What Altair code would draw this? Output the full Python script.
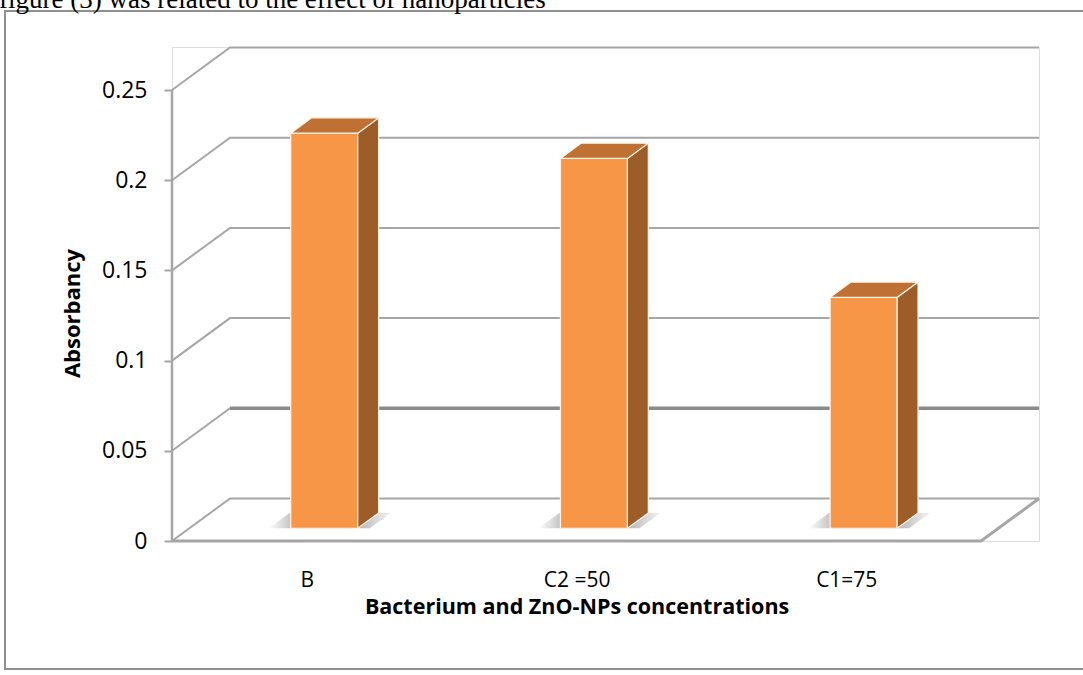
import altair as alt
import pandas as pd

# ---------------- data ----------------
categories = ["B", "C2 =50", "C1=75"]
absorbancy = [0.219, 0.205, 0.128]
tick_values = [0, 0.05, 0.1, 0.15, 0.2, 0.25]
x_title = "Bacterium and ZnO-NPs concentrations"
y_title = "Absorbancy"
caption = "figure (3) was related to the effect of nanoparticles"

# ---------------- layout (pseudo 3-D geometry) ----------------
PX_W, PX_H = 867, 494          # plot area in pixels
SLOT_PX = 269.7                # width of one category slot on the front floor
PX_PER_Y = 1804.0              # pixels per 1.0 absorbancy
X_MAX = PX_W / SLOT_PX
Y_MAX = PX_H / PX_PER_Y
DX = 58 / SLOT_PX              # depth of the wall (x)
DY = 42.5 / PX_PER_Y           # depth of the wall (y)
FRONT_F = 0.30                 # depth fraction of a bar's front face
BAR_F = 0.36                   # depth fraction of a bar
BAR_W = 67 / SLOT_PX
N = len(categories)

xs = alt.Scale(domain=[0, X_MAX], nice=False, zero=False)
ys = alt.Scale(domain=[0, Y_MAX], nice=False, zero=False)
GRID = "#a6a6a6"

x_axis = alt.Axis(
    values=[i + 0.5 for i in range(N)],
    labelExpr="[" + ",".join("'" + c + "'" for c in categories) + "][floor(datum.value)]",
    domain=False, ticks=False, tickSize=0, grid=False,
    labelFontSize=21, labelColor="#000", labelPadding=28, labelBaseline="top",
    title=x_title, titleFontSize=21.5, titleFontWeight="bold", titleColor="#000",
    titleX=N * SLOT_PX / 2, titleY=55, titleBaseline="top", titleAlign="center",
)
y_axis = alt.Axis(
    values=tick_values, format="~g", domain=False, grid=False,
    tickSize=8, tickWidth=2, tickColor=GRID,
    labelFontSize=23, labelColor="#000", labelPadding=17,
    title=y_title, titleFontSize=22, titleFontWeight="bold", titleColor="#000",
    titleAngle=270, titleX=-100, titleY=266, titleAlign="center", titleBaseline="middle",
)

def X(f="x"):
    return alt.X(f + ":Q", scale=xs, axis=x_axis)

def Y(f="y"):
    return alt.Y(f + ":Q", scale=ys, axis=y_axis)

# --- back wall / floor grid lines ---
grid_rows = []
for t in tick_values:
    for k, (gx, gy) in enumerate([(0, t), (DX, t + DY), (X_MAX, t + DY)]):
        grid_rows.append({"t": t, "k": k, "x": gx, "y": gy})
grid_df = pd.DataFrame(grid_rows)

grid = alt.Chart(grid_df).mark_line(
    color=GRID, strokeWidth=2).encode(x=X(), y=Y(), detail="t:N", order="k:Q")
grid_major = alt.Chart(grid_df).transform_filter(
    (alt.datum.t == 0.05) & (alt.datum.k >= 1)
).mark_line(color="#8a8a8a", strokeWidth=3.5).encode(
    x=X(), y=Y(), detail="t:N", order="k:Q")

floor_df = pd.DataFrame({"k": [0, 1, 2], "x": [0, N, N + DX], "y": [0, 0, DY]})
floor = alt.Chart(floor_df).mark_line(color=GRID, strokeWidth=3).encode(
    x=X(), y=Y(), order="k:Q")

axis_df = pd.DataFrame({"x": [0], "y": [0], "y2": [tick_values[-1]]})
axis_line = alt.Chart(axis_df).mark_rule(color=GRID, strokeWidth=2.5).encode(
    x=X(), y=Y(), y2="y2:Q")

# --- bars ---
front_rows, side_rows, top_rows, shadow_rows = [], [], [], []
ddx, ddy = BAR_F * DX, BAR_F * DY
for i, (c, v) in enumerate(zip(categories, absorbancy)):
    xl = i + 0.5 - BAR_W / 2 + FRONT_F * DX
    xr = xl + BAR_W
    base = FRONT_F * DY
    top = v + base
    front_rows.append({"c": c, "x": xl, "x2": xr, "y": base, "y2": top})
    side_rows += [
        {"c": c, "x": xr, "y": base, "y2": top},
        {"c": c, "x": xr + ddx, "y": base + ddy, "y2": top + ddy},
    ]
    top_rows += [
        {"c": c, "x": xl, "y": top, "y2": top},
        {"c": c, "x": xl + ddx, "y": top, "y2": top + ddy},
        {"c": c, "x": xr, "y": top, "y2": top + ddy},
        {"c": c, "x": xr + ddx, "y": top + ddy, "y2": top + ddy},
    ]
    sl, sr = xl - 22 / SLOT_PX, xr + 12 / SLOT_PX
    shadow_rows += [
        {"c": c, "x": sl, "y": base, "y2": base},
        {"c": c, "x": sl + ddx, "y": base, "y2": base + ddy},
        {"c": c, "x": sr, "y": base, "y2": base + ddy},
        {"c": c, "x": sr + ddx, "y": base + ddy, "y2": base + ddy},
    ]

shadow_grad = alt.LinearGradient(
    gradient="linear", x1=0, x2=1, y1=0, y2=0,
    stops=[alt.GradientStop(color="#ffffff", offset=0),
           alt.GradientStop(color="#9a9a9a", offset=0.25),
           alt.GradientStop(color="#a8a8a8", offset=0.75),
           alt.GradientStop(color="#f0f0f0", offset=1)])
shadow = alt.Chart(pd.DataFrame(shadow_rows)).mark_area(color=shadow_grad, opacity=0.8).encode(
    x=X(), y=Y(), y2="y2:Q", detail="c:N")

front = alt.Chart(pd.DataFrame(front_rows)).mark_rect(
    color="#F79646", stroke="#fff3e8", strokeWidth=1.2).encode(
    x=X(), x2="x2:Q", y=Y(), y2="y2:Q")
side = alt.Chart(pd.DataFrame(side_rows)).mark_area(
    color="#9C5D29", stroke="#fff3e8", strokeWidth=1.2).encode(
    x=X(), y=Y(), y2="y2:Q", detail="c:N")
topf = alt.Chart(pd.DataFrame(top_rows)).mark_area(
    color="#BE7133", stroke="#fff3e8", strokeWidth=1.2).encode(
    x=X(), y=Y(), y2="y2:Q", detail="c:N")

# --- frame and caption (decoration) ---
one = pd.DataFrame({"a": [0]})
frame = alt.Chart(one).mark_rect(fill=None, stroke="#8f8f8f", strokeWidth=2).encode(
    x=alt.value(-167), x2=alt.value(918), y=alt.value(-36), y2=alt.value(622))
cap = alt.Chart(pd.DataFrame({"t": [caption]})).mark_text(
    font="Liberation Serif", fontSize=27, align="left", baseline="alphabetic",
    color="#000").encode(x=alt.value(-173), y=alt.value(-39), text="t:N")

chart = alt.layer(
    frame, cap, grid, grid_major, floor, axis_line, shadow, front, side, topf
).properties(
    width=PX_W, height=PX_H,
    autosize=alt.AutoSizeParams(type="none"),
    padding={"left": 172, "top": 47, "right": 44, "bottom": 134},
    background="white",
).configure_view(stroke=None).configure(font="Open Sans")

chart.save("out.html", embed_options={"renderer": "svg", "actions": False})
